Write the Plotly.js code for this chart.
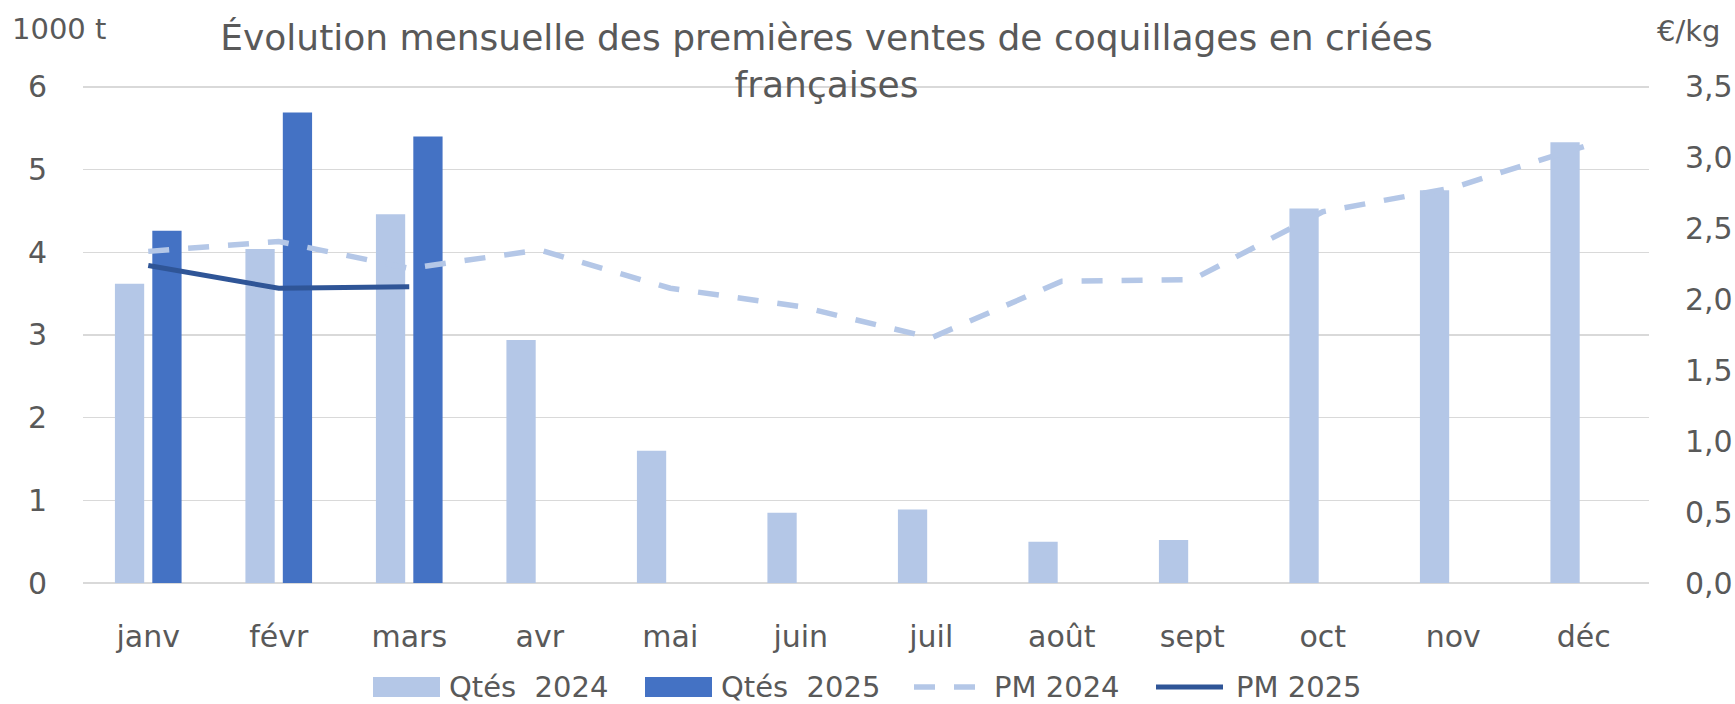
<!DOCTYPE html>
<html>
<head>
<meta charset="utf-8">
<script src="https://cdn.plot.ly/plotly-3.0.1.min.js"></script>
<style>
html,body{margin:0;padding:0;background:#ffffff;}
#chart{width:1735px;height:704px;}
</style>
</head>
<body>
<div id="chart"></div>
<script>
// ---- data ----
const months = ['janv','févr','mars','avr','mai','juin','juil','août','sept','oct','nov','déc'];
const qtes2024 = [3.62, 4.04, 4.46, 2.94, 1.60, 0.85, 0.89, 0.50, 0.52, 4.53, 4.75, 5.33];
const qtes2025 = [4.26, 5.69, 5.40, null, null, null, null, null, null, null, null, null];
const pm2024 = [2.34, 2.41, 2.22, 2.35, 2.08, 1.95, 1.73, 2.13, 2.14, 2.62, 2.79, 3.08];
const pm2025 = [2.24, 2.08, 2.09, null, null, null, null, null, null, null, null, null];
const seriesNames = ['Qtés\u00a0 2024', 'Qtés\u00a0 2025', 'PM 2024', 'PM 2025'];
const leftTicks = [0, 1, 2, 3, 4, 5, 6];
const rightTicks = [0, 0.5, 1, 1.5, 2, 2.5, 3, 3.5];
const titleText = 'Évolution mensuelle des premières ventes de coquillages en criées<br>françaises';
const leftUnit = '1000 t';
const rightUnit = '€/kg';

// ---- geometry / style ----
const W = 1735, H = 704;
const M = {l: 83, r: 86, t: 85, b: 121};
const plotW = W - M.l - M.r, plotH = H - M.t - M.b;
const px2x = px => (px - M.l) / plotW;
const py2y = py => (H - M.b - py) / plotH;
const topPad = 1.004; // small headroom so the top gridline is not clipped

const FONT = 'DejaVu Sans';
const TXT = '#595959';
const GRID = '#D9D9D9';
const cLight = '#B4C7E7';
const cDark = '#4472C4';
const cLine25 = '#2F5597';
const dashPat = '21px,19px';

const traces = [
  {type: 'bar', name: seriesNames[0], x: months, y: qtes2024, marker: {color: cLight}, showlegend: false, hoverinfo: 'skip'},
  {type: 'bar', name: seriesNames[1], x: months, y: qtes2025, marker: {color: cDark}, showlegend: false, hoverinfo: 'skip'},
  {type: 'scatter', mode: 'lines', name: seriesNames[2], x: months, y: pm2024, yaxis: 'y2',
   line: {color: cLight, width: 5.5, dash: dashPat}, showlegend: false, hoverinfo: 'skip'},
  {type: 'scatter', mode: 'lines', name: seriesNames[3], x: months, y: pm2025, yaxis: 'y2',
   line: {color: cLine25, width: 5}, showlegend: false, hoverinfo: 'skip', connectgaps: false}
];

// custom legend (Excel-like wide swatches)
const legendItems = [
  {kind: 'rect', color: cLight, x0: 373},
  {kind: 'rect', color: cDark, x0: 645},
  {kind: 'dash', color: cLight, x0: 914},
  {kind: 'line', color: cLine25, x0: 1156}
];
const shapes = [];
const annotations = [];
const legY = 687;

// top gridline (Plotly skips a gridline sitting on the plot edge)
const topTick = leftTicks[leftTicks.length - 1];
shapes.push({type: 'line', xref: 'paper', yref: 'y', x0: 0, x1: 1, y0: topTick, y1: topTick,
  layer: 'below', line: {color: GRID, width: 1.6}});

legendItems.forEach((it, i) => {
  const x0 = px2x(it.x0), x1 = px2x(it.x0 + 67);
  if (it.kind === 'rect') {
    shapes.push({type: 'rect', xref: 'paper', yref: 'paper', x0: x0, x1: x1,
      y0: py2y(legY + 10), y1: py2y(legY - 10), fillcolor: it.color, line: {width: 0}});
  } else {
    shapes.push({type: 'line', xref: 'paper', yref: 'paper', x0: x0, x1: x1,
      y0: py2y(legY), y1: py2y(legY),
      line: {color: it.color, width: it.kind === 'dash' ? 5.5 : 5, dash: it.kind === 'dash' ? dashPat : 'solid'}});
  }
  annotations.push({xref: 'paper', yref: 'paper', x: px2x(it.x0 + (it.kind === 'rect' ? 74 : 78)), y: py2y(legY),
    xanchor: 'left', yanchor: 'middle', text: seriesNames[i], showarrow: false,
    font: {family: FONT, size: 29, color: TXT}});
});
annotations.push({xref: 'paper', yref: 'paper', x: px2x(10), y: py2y(29), xanchor: 'left', yanchor: 'middle',
  text: leftUnit, showarrow: false, font: {family: FONT, size: 29, color: TXT}});
annotations.push({xref: 'paper', yref: 'paper', x: px2x(1655), y: py2y(31), xanchor: 'left', yanchor: 'middle',
  text: rightUnit, showarrow: false, font: {family: FONT, size: 29, color: TXT}});

const layout = {
  width: W, height: H,
  margin: M,
  paper_bgcolor: '#ffffff', plot_bgcolor: '#ffffff',
  font: {family: FONT, color: TXT, size: 30},
  separators: ', ',
  title: {text: titleText, xref: 'container', yref: 'container', x: 826.5 / W, xanchor: 'center',
    y: 1 - 50 / H, yanchor: 'top', font: {family: FONT, size: 36, color: TXT}},
  barmode: 'group', bargap: 0.427, bargroupgap: 0.217,
  showlegend: false,
  xaxis: {type: 'category', range: [-0.5, 11.5], showgrid: false, zeroline: false, showline: false,
    ticks: '', ticklabelstandoff: 33, tickfont: {family: FONT, size: 30, color: TXT}, fixedrange: true},
  yaxis: {range: [0, 6 * topPad], tickvals: leftTicks, ticktext: leftTicks.map(String), showgrid: true, gridcolor: GRID, gridwidth: 1.6,
    zeroline: true, zerolinecolor: GRID, zerolinewidth: 1.6, showline: false, ticks: '', ticklabelstandoff: 35,
    tickfont: {family: FONT, size: 30, color: TXT}, fixedrange: true},
  yaxis2: {overlaying: 'y', side: 'right', range: [0, 3.5 * topPad], tickvals: rightTicks,
    ticktext: rightTicks.map(v => v.toFixed(1).replace('.', ',')), showgrid: false, zeroline: false, showline: false,
    ticks: '', ticklabelstandoff: 35, tickfont: {family: FONT, size: 30, color: TXT}, fixedrange: true},
  shapes: shapes,
  annotations: annotations
};

Plotly.newPlot('chart', traces, layout, {displayModeBar: false, staticPlot: true});
</script>
</body>
</html>
